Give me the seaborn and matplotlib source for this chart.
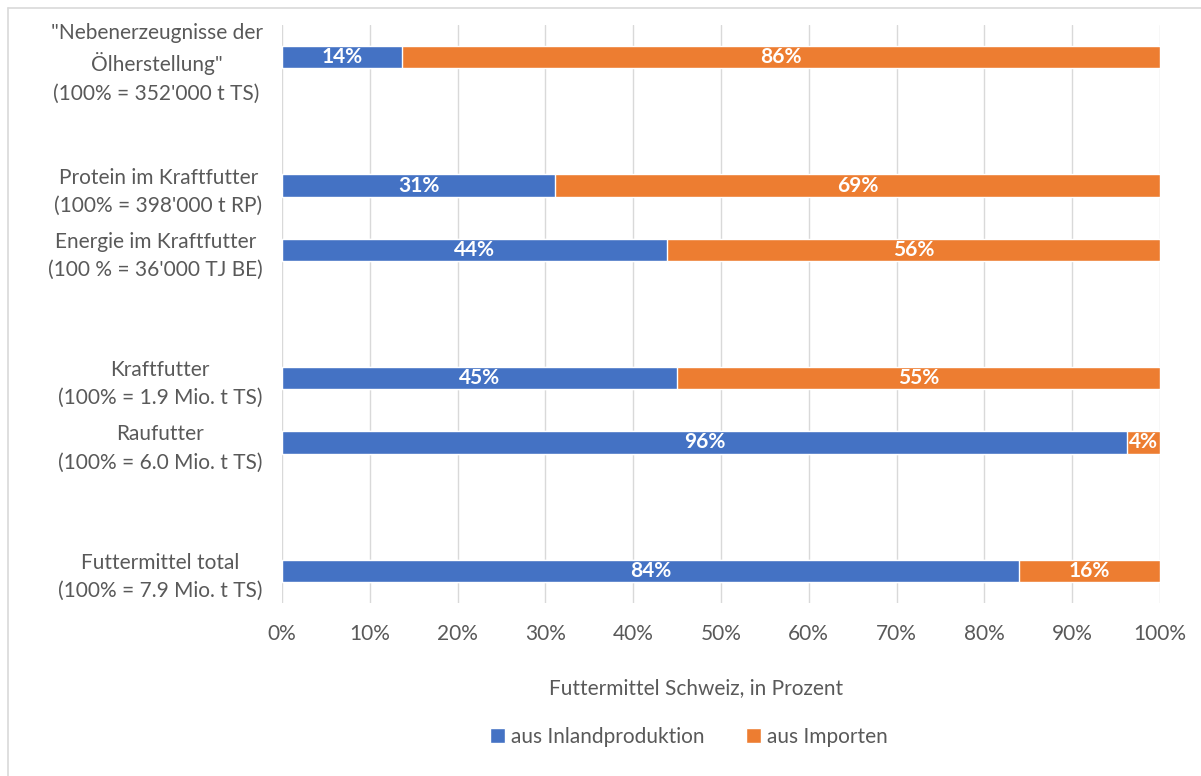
import matplotlib
matplotlib.use("Agg")
import matplotlib.pyplot as plt
import seaborn as sns
import pandas as pd
import numpy as np
from matplotlib.lines import Line2D
from matplotlib.patches import Patch

sns.set_theme(style="white")
plt.rcParams['font.family'] = ['Lato', 'DejaVu Sans']

# Data (top to bottom), "gap" entries keep the spaces between groups
categories = ['"Nebenerzeugnisse der\nÖlherstellung"\n(100% = 352\'000 t TS)',
              'gap1',
              "Protein im Kraftfutter\n(100% = 398'000 t RP)",
              "Energie im Kraftfutter\n(100 % = 36'000 TJ BE)",
              'gap2',
              "Kraftfutter\n(100% = 1.9 Mio. t TS)",
              "Raufutter\n(100% = 6.0 Mio. t TS)",
              'gap3',
              "Futtermittel total\n(100% = 7.9 Mio. t TS)"]
inland = [13.7, np.nan, 31.1, 43.8, np.nan, 45.0, 96.2, np.nan, 83.9]
inland_labels = ["14%", "", "31%", "44%", "", "45%", "96%", "", "84%"]
import_labels = ["86%", "", "69%", "56%", "", "55%", "4%", "", "16%"]
total = [100, np.nan, 100, 100, np.nan, 100, 100, np.nan, 100]

series_names = ["aus Inlandproduktion", "aus Importen"]
blue = "#4472C4"
orange = "#ED7D31"
text_col = "#595959"
FS = 15

df = pd.DataFrame({"cat": categories, "inland": inland, "total": total})

fig = plt.figure(figsize=(12.01, 7.76), dpi=100)
ax = fig.add_axes([282/1201, 1-603/776, (1160-282)/1201, (603-25)/776])

bw = 0.345
sns.barplot(data=df, y="cat", x="total", order=categories, orient="h",
            color=orange, saturation=1, width=bw, ax=ax, zorder=2)
sns.barplot(data=df, y="cat", x="inland", order=categories, orient="h",
            color=blue, saturation=1, width=bw, ax=ax, zorder=3)

for i, (v, t) in enumerate(zip(inland, total)):
    if np.isnan(v):
        continue
    ax.text(v / 2, i, inland_labels[i], color="white", fontweight="bold",
            fontsize=FS, ha="center", va="center", zorder=4)
    ax.text(v + (t - v) / 2, i, import_labels[i], color="white", fontweight="bold",
            fontsize=FS, ha="center", va="center", zorder=4)

ax.set_xlim(0, 100)
ax.set_ylim(len(categories) - 0.5, -0.5)
ax.set_xticks(np.arange(0, 101, 10))
ax.set_xticklabels([f"{t}%" for t in range(0, 101, 10)], fontsize=FS, color=text_col)
ax.xaxis.grid(True, color="#D9D9D9", linewidth=1.0, zorder=0)
ax.set_axisbelow(True)
ax.tick_params(axis="x", length=0, pad=15)
ax.tick_params(axis="y", length=0, pad=14)
ylabels = [c if not c.startswith("gap") else "" for c in categories]
ax.set_yticks(range(len(categories)))
ax.set_yticklabels(ylabels, fontsize=FS, color=text_col, ha="right", multialignment="center",
                   linespacing=1.5)
for s in ax.spines.values():
    s.set_visible(False)
ax.set_xlabel("")
ax.set_ylabel("")

fig.text(696/1201, 1-688/776, "Futtermittel Schweiz, in Prozent", ha="center", va="center",
         fontsize=FS, color=text_col)

handles = [Patch(facecolor=blue), Patch(facecolor=orange)]
fig.legend(handles, series_names, loc="center", bbox_to_anchor=(689/1201, 1-737/776),
           ncol=2, frameon=False, fontsize=FS, labelcolor=text_col,
           handlelength=0.7, handleheight=0.7, handletextpad=0.3, columnspacing=2.0)

# outer chart border (left and top edges visible)
fig.add_artist(Line2D([8/1201, 8/1201], [0, 1-8/776], color="#D9D9D9", linewidth=1.2,
                      transform=fig.transFigure))
fig.add_artist(Line2D([8/1201, 1], [1-8/776, 1-8/776], color="#D9D9D9", linewidth=1.2,
                      transform=fig.transFigure))

fig.savefig("out.png", dpi=100, facecolor="white")
